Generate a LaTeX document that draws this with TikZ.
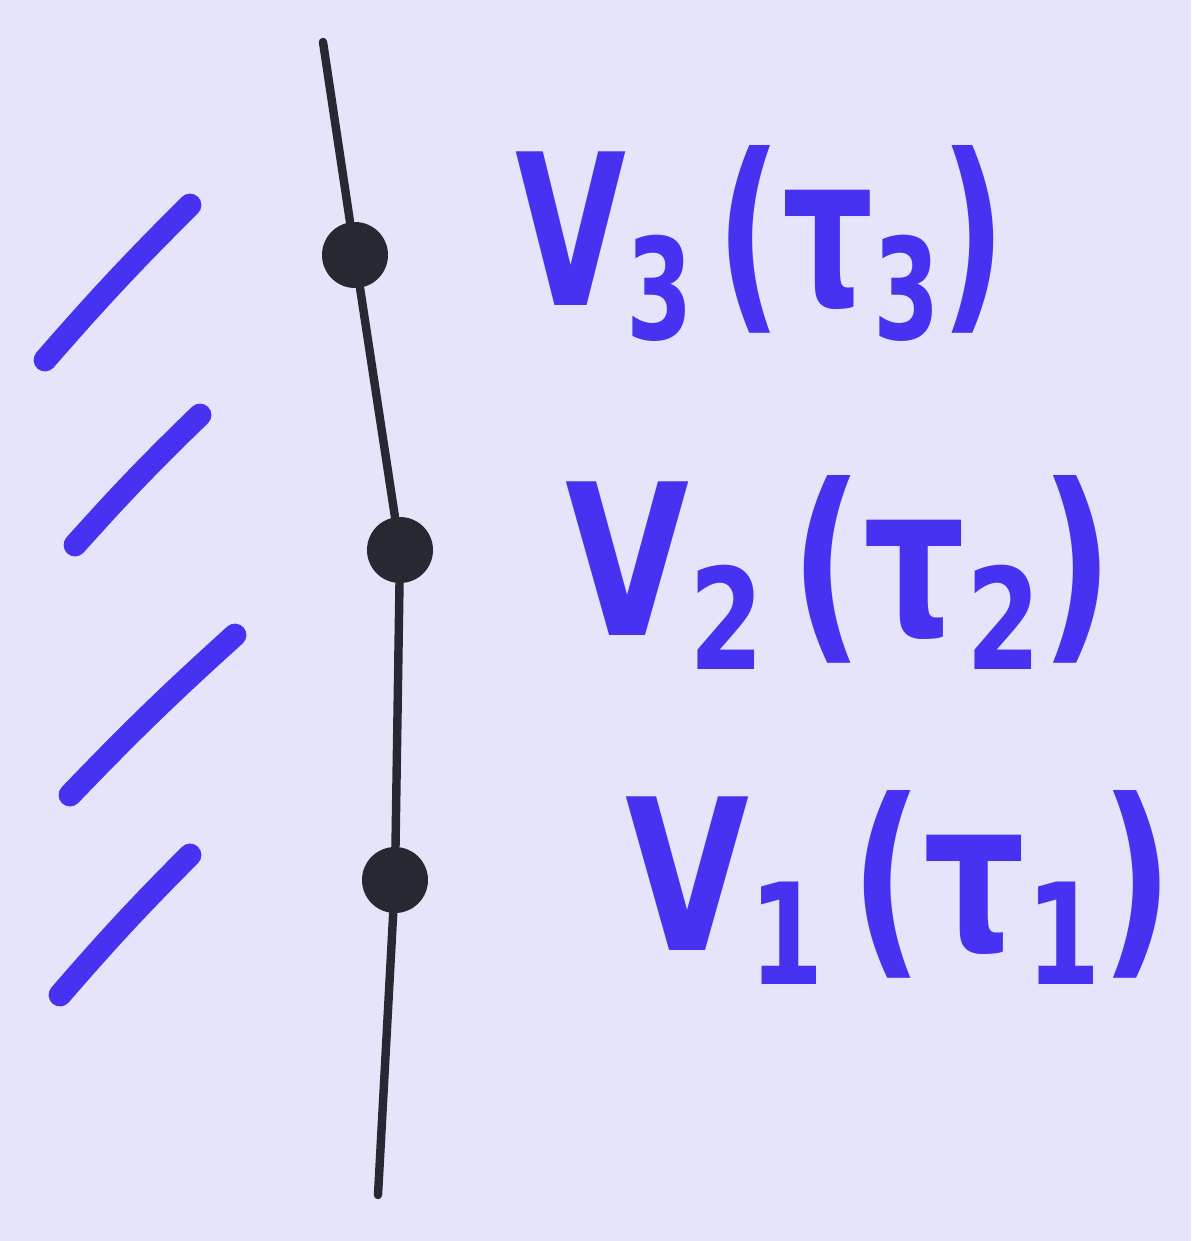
\documentclass[tikz,border=0pt]{standalone}
\usepackage{fontspec}
\setmainfont{DejaVu Sans}
\definecolor{paper}{RGB}{230,228,250}
\definecolor{ink}{RGB}{70,50,240}
\definecolor{pen}{RGB}{40,40,50}
\newcommand\lowidx[1]{\raisebox{-0.3ex}{\fontsize{40}{42}\selectfont #1}}

\begin{document}
\begin{tikzpicture}[dot/.style={circle,fill=pen,inner sep=0pt,minimum size=0.66cm},
  lab/.style={anchor=base west,text=ink,font=\fontsize{60}{64}\bfseries\selectfont,inner sep=0pt,transform shape}]
\fill[paper] (0,0) rectangle (11.91,-12.41);
\useasboundingbox (0,0) rectangle (11.91,-12.41);

% world line with the three events
\coordinate (top) at (3.23,-0.42);
\node[dot] (3) at (3.55,-2.55) {};
\node[dot] (2) at (4.00,-5.50) {};
\node[dot] (1) at (3.95,-8.80) {};
\coordinate (bot) at (3.78,-11.95);
\draw[pen,line width=2.4pt,line cap=round] (top) -- (3) -- (2) -- (1) -- (bot);

\node[lab,xscale=0.68] (l3) at (5.15,-3.05) {V\lowidx{3}\,(τ\lowidx{3})};
\node[lab,xscale=0.76] (l2) at (5.65,-6.35) {V\lowidx{2}\,(τ\lowidx{2})};
\node[lab,xscale=0.76] (l1) at (6.25,-9.50) {V\lowidx{1}\,(τ\lowidx{1})};

% hatching
\foreach \x/\y/\u/\v in {0.45/3.60/1.90/2.05, 0.75/5.45/2.00/4.15, 0.70/7.95/2.35/6.35, 0.60/9.95/1.90/8.55}
  \draw[ink,line width=6.5pt,line cap=round] (\x,-\y) to[bend left=2] (\u,-\v);
\end{tikzpicture}
\end{document}
